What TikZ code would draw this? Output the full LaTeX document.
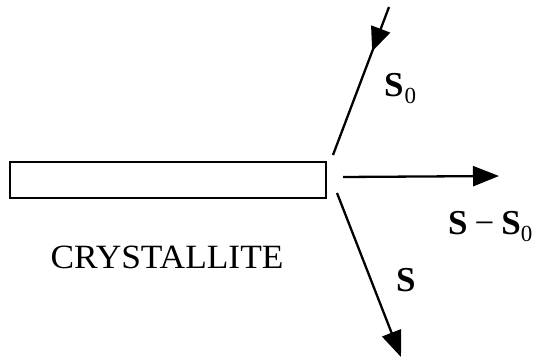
\documentclass[tikz,border=0pt]{standalone}
\usepackage{fontspec}
\setmainfont{Liberation Serif}
\usetikzlibrary{arrows.meta,decorations.markings}
\tikzset{
  beam/.style={line width=2.3pt},
  bigtip/.style={-{Triangle[length=26pt,width=20pt]}},
  lbl/.style={inner sep=0pt,anchor=base west,font=\fontsize{35}{40}\selectfont},
}
\newcommand{\subz}{\raisebox{-7pt}{\fontsize{23}{24}\selectfont 0}}
\begin{document}
\begin{tikzpicture}[x=1pt,y=-1pt]
\useasboundingbox (0,0) rectangle (546,361);
\node[draw,line width=2.2pt,minimum width=316pt,minimum height=36pt,inner sep=0pt] (crystal) at (168,180) {};
\coordinate (src) at (389,7);
\coordinate (hit) at (333,155);
\coordinate (d0) at (343,177);
\coordinate (d1) at (499,176);
\coordinate (o0) at (337,193);
\coordinate (o1) at (401,357);
\draw[beam,postaction={decorate},decoration={markings,mark=at position 0.3 with {\arrow{Triangle[length=24pt,width=20pt]}}}] (src) -- (hit);
\draw[beam,bigtip] (d0) -- (d1);
\draw[beam,bigtip] (o0) -- (o1);
\node[lbl] (ls0) at (384,96) {\textbf{S}\kern1pt\subz};
\node[lbl] (ld) at (448,234) {\textbf{S}\kern7pt{\char"2212}\kern7pt\textbf{S}\subz};
\node[lbl] (ls) at (396,291) {\textbf{S}};
\node[inner sep=0pt,anchor=base,font=\fontsize{34}{38}\selectfont] (name) at (167,268) {\scalebox{1.04}[1]{CRYSTALLITE}};
\end{tikzpicture}
\end{document}
